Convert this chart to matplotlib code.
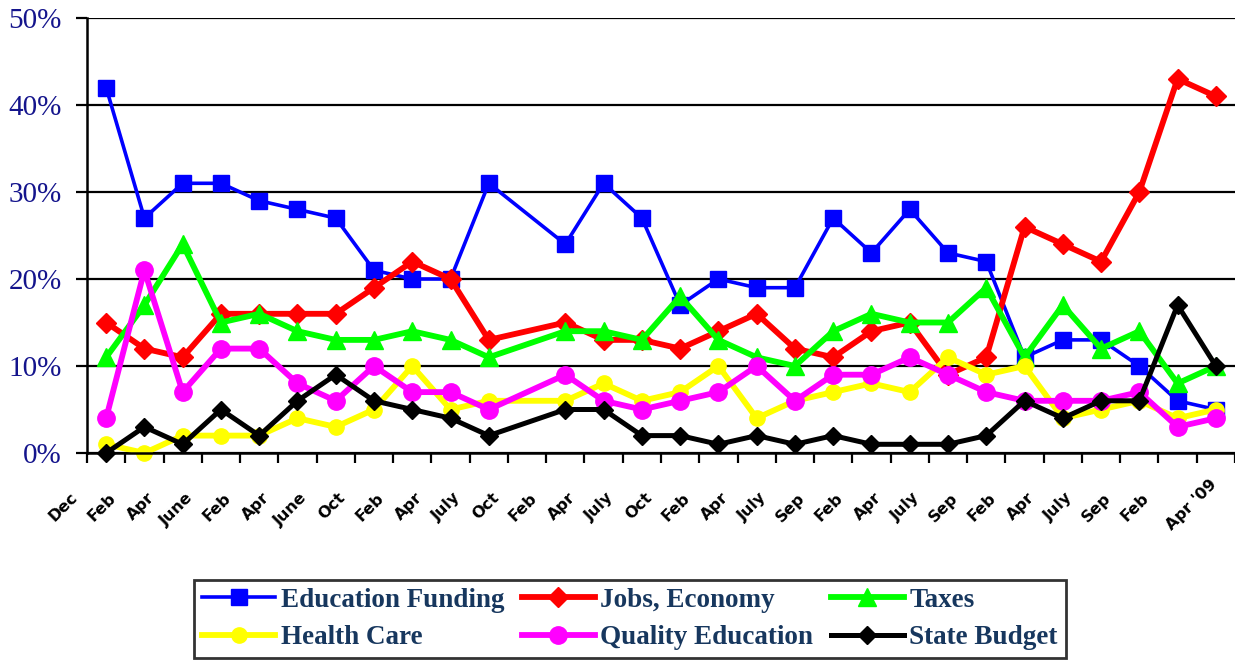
import numpy as np
import matplotlib
matplotlib.use("Agg")
from matplotlib import pyplot as plt
from matplotlib.transforms import ScaledTranslation

# 30 survey slots along the x axis; slot 11 has no survey
labels = ["Dec", "Feb", "Apr", "June", "Feb", "Apr", "June", "Oct", "Feb", "Apr",
          "July", "Oct", "Feb", "Apr", "July", "Oct", "Feb", "Apr", "July", "Sep",
          "Feb", "Apr", "July", "Sep", "Feb", "Apr", "July", "Sep", "Feb", "Apr '09"]
slots = [0, 1, 2, 3, 4, 5, 6, 7, 8, 9, 10, 12, 13, 14, 15, 16, 17, 18, 19, 20,
         21, 22, 23, 24, 25, 26, 27, 28, 29]

education_funding = [42, 27, 31, 31, 29, 28, 27, 21, 20, 20, 31, 24, 31, 27, 17,
                     20, 19, 19, 27, 23, 28, 23, 22, 11, 13, 13, 10, 6, 5]
jobs_economy = [15, 12, 11, 16, 16, 16, 16, 19, 22, 20, 13, 15, 13, 13, 12,
                14, 16, 12, 11, 14, 15, 9, 11, 26, 24, 22, 30, 43, 41]
taxes = [11, 17, 24, 15, 16, 14, 13, 13, 14, 13, 11, 14, 14, 13, 18,
         13, 11, 10, 14, 16, 15, 15, 19, 11, 17, 12, 14, 8, 10]
health_care = [1, 0, 2, 2, 2, 4, 3, 5, 10, 5, 6, 6, 8, 6, 7,
               10, 4, 6, 7, 8, 7, 11, 9, 10, 4, 5, 6, 4, 5]
quality_education = [4, 21, 7, 12, 12, 8, 6, 10, 7, 7, 5, 9, 6, 5, 6,
                     7, 10, 6, 9, 9, 11, 9, 7, 6, 6, 6, 7, 3, 4]
state_budget = [0, 3, 1, 5, 2, 6, 9, 6, 5, 4, 2, 5, 5, 2, 2,
                1, 2, 1, 2, 1, 1, 1, 2, 6, 4, 6, 6, 17, 10]

fig = plt.figure(figsize=(12.35, 6.61), dpi=100)
ax = fig.add_axes([87 / 1235, 1 - 453 / 661, 1 - 87 / 1235, (453 - 18) / 661])

series = [
    ("Education Funding", education_funding, "#0000FF", "s", 2.6, 11.5),
    ("Jobs, Economy", jobs_economy, "#FF0000", "D", 4.2, 10),
    ("Taxes", taxes, "#00FF00", "^", 4.2, 12.5),
    ("Health Care", health_care, "#FFFF00", "o", 4.2, 11),
    ("Quality Education", quality_education, "#FF00FF", "o", 4.2, 12.5),
    ("State Budget", state_budget, "#000000", "D", 3.6, 9.5),
]
handles = {}
for name, vals, col, mk, lw, ms in series:
    h, = ax.plot(slots, vals, color=col, lw=lw, marker=mk, ms=ms,
                 markeredgecolor=col, label=name, clip_on=False, zorder=3)
    handles[name] = h

ax.set_xlim(-0.5, 29.5)
ax.set_ylim(0, 50)
ax.set_yticks(range(0, 51, 10))
ax.set_yticklabels(["%d%%" % v for v in range(0, 51, 10)],
                   fontfamily="Liberation Serif", fontsize=21, color="#14148C")
ax.yaxis.grid(True, color="black", lw=1.6)
ax.set_axisbelow(True)
ax.tick_params(axis="y", length=8, width=1.6, direction="out", pad=10)

# tick marks at slot boundaries, labels at slot centers
ax.set_xticks(np.arange(-0.5, 30, 1))
ax.set_xticklabels([])
ax.tick_params(axis="x", which="major", length=7, width=1.6, direction="out")
ax.set_xticks(range(30), minor=True)
ax.set_xticklabels(labels, minor=True, rotation=45, ha="right", va="top",
                   rotation_mode="anchor", fontsize=11.5, fontweight="bold")
ax.tick_params(axis="x", which="minor", length=0, pad=0)
for i, t in enumerate(ax.get_xticklabels(minor=True)):
    if i < 29:
        off = ScaledTranslation(-0.36, -0.37, fig.dpi_scale_trans)
    else:
        off = ScaledTranslation(-0.07, -0.24, fig.dpi_scale_trans)
    t.set_transform(t.get_transform() + off)

for s in ["top", "right"]:
    ax.spines[s].set_visible(False)
for s in ["left", "bottom"]:
    ax.spines[s].set_linewidth(1.8)
    ax.spines[s].set_zorder(4)

order = ["Education Funding", "Health Care", "Jobs, Economy",
         "Quality Education", "Taxes", "State Budget"]
leg = fig.legend([handles[n] for n in order], order, ncol=3, loc="center",
                 bbox_to_anchor=(0.51, 0.0635), frameon=True, fancybox=False,
                 edgecolor="black", handlelength=2.7, handletextpad=0.2,
                 columnspacing=0.65, borderpad=0.3, labelspacing=0.45,
                 prop={"family": "Liberation Serif", "weight": "bold", "size": 19.5})
leg.get_frame().set_linewidth(2)
for t in leg.get_texts():
    t.set_color("#17375E")

fig.savefig("out.png", dpi=100)
